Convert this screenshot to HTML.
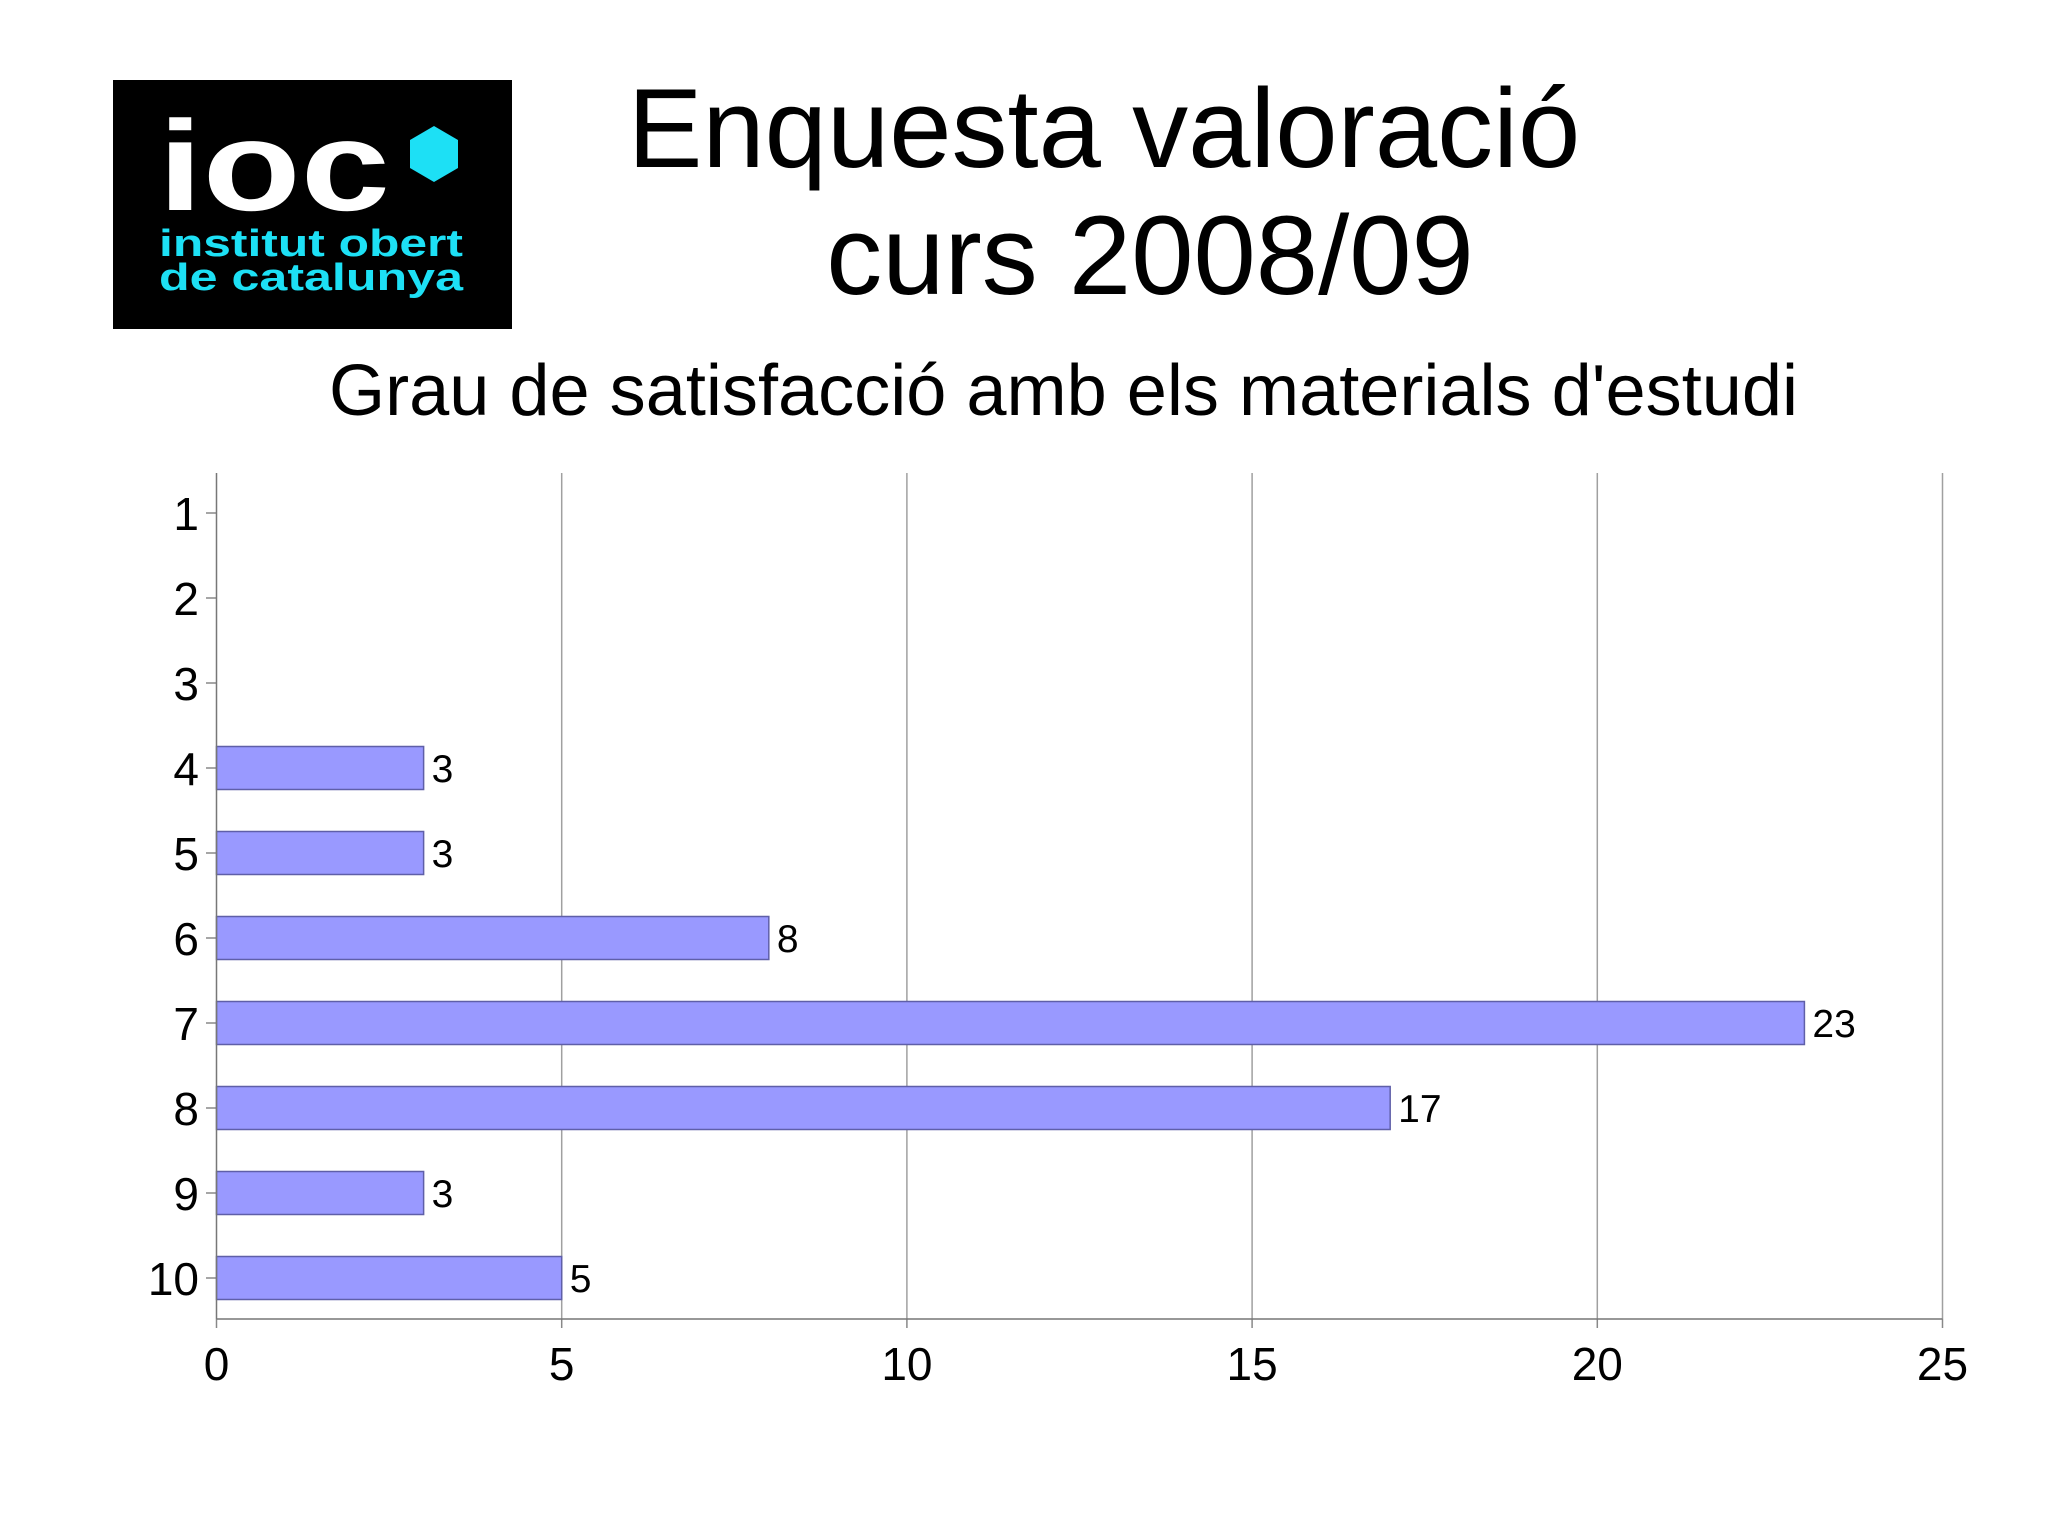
<!DOCTYPE html>
<html><head><meta charset="utf-8"><style>
html,body{margin:0;padding:0;background:#fff;}
svg{display:block;font-family:"Liberation Sans",Arial,sans-serif;}
</style></head><body>
<svg id="chart" width="2048" height="1535" viewBox="0 0 2048 1535" xmlns="http://www.w3.org/2000/svg">
<rect width="2048" height="1535" fill="#ffffff"/>
<g>
<rect x="113" y="80" width="399" height="249" fill="#000"/>
<text x="158" y="210" font-size="128" font-weight="bold" fill="#fff" textLength="232" lengthAdjust="spacingAndGlyphs">ioc</text>
<polygon points="434,126 458,140 458,168 434,182 410,168 410,140" fill="#1de0f5"/>
<text x="159" y="256" font-size="38" font-weight="bold" fill="#1de0f5" textLength="304" lengthAdjust="spacingAndGlyphs">institut obert</text>
<text x="159" y="290" font-size="38" font-weight="bold" fill="#1de0f5" textLength="304" lengthAdjust="spacingAndGlyphs">de catalunya</text>
</g>
<text x="1104" y="167" font-size="112" text-anchor="middle" fill="#000">Enquesta valoració</text>
<text x="1150" y="294" font-size="112" text-anchor="middle" fill="#000">curs 2008/09</text>
<text x="329" y="415" font-size="72" fill="#000" textLength="1469" lengthAdjust="spacingAndGlyphs">Grau de satisfacció amb els materials d'estudi</text>
<g id="plot"></g>
</svg>
<script>
const categories = ["1","2","3","4","5","6","7","8","9","10"];
const values = [0,0,0,3,3,8,23,17,3,5];
const xTicks = [0,5,10,15,20,25];

const svg = document.getElementById('plot');
const NS = 'http://www.w3.org/2000/svg';
const x0 = 216.5, x1 = 1942.5, yTop = 473, yBot = 1319;
const xMax = 25;
function xs(v){ return x0 + (v/xMax)*(x1-x0); }
const c1 = 513, step = 85;
function ys(i){ return c1 + i*step; }
function mk(tag, attrs){ const e=document.createElementNS(NS,tag); for(const k in attrs) e.setAttribute(k,attrs[k]); svg.appendChild(e); return e; }

xTicks.forEach((t)=>{
  const x = xs(t);
  if (t>0){
    const g = mk('line',{x1:x,y1:yTop,x2:x,y2:yBot,stroke:'#a0a0a0','stroke-width':1.5});
    
    
  }
  const tk = mk('line',{x1:x,y1:yBot,x2:x,y2:yBot+9,stroke:'#888','stroke-width':1.5});
  
  
  const lb = mk('text',{x:x,y:1380,'font-size':46,'text-anchor':'middle',fill:'#000'});
  lb.textContent = t;
  
  
});

categories.forEach((c,i)=>{
  const y = ys(i);
  const tk = mk('line',{x1:206,y1:y,x2:x0,y2:y,stroke:'#888','stroke-width':1.5});
  
  
  const lb = mk('text',{x:199,y:y+17,'font-size':46,'text-anchor':'end',fill:'#000'});
  lb.textContent = c;
  
  
  const v = values[i];
  if (v>0){
    const b = mk('rect',{x:x0,y:y-21.5,width:xs(v)-x0,height:43,fill:'#9999ff',stroke:'#5f5fa8','stroke-width':1.5});
    
    
    const vl = mk('text',{x:xs(v)+8,y:y+14,'font-size':39,fill:'#000'});
    vl.textContent = v;
    
    
  }
});
const ax = mk('line',{x1:x0,y1:yTop,x2:x0,y2:yBot,stroke:'#777','stroke-width':1.5});


const axb = mk('line',{x1:x0,y1:yBot,x2:x1,y2:yBot,stroke:'#777','stroke-width':1.5});


</script>
</body></html>
